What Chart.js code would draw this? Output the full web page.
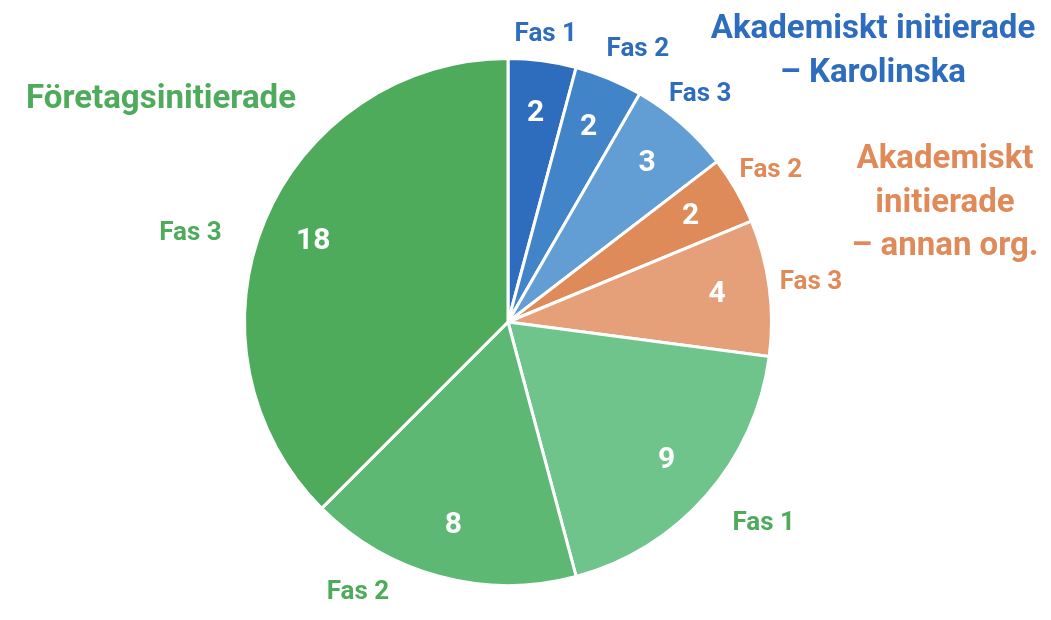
<!DOCTYPE html>
<html>
<head>
<meta charset="utf-8">
<script src="https://cdn.jsdelivr.net/npm/chart.js@4"></script>
<style>
  html, body { margin: 0; padding: 0; background: #fff; }
  #wrap { width: 1051px; height: 620px; position: relative; }
</style>
</head>
<body>
<div id="wrap"><canvas id="pieChart"></canvas></div>
<script>
// Data
const labels = ['Fas 1', 'Fas 2', 'Fas 3', 'Fas 2', 'Fas 3', 'Fas 1', 'Fas 2', 'Fas 3'];
const groups = ['kar', 'kar', 'kar', 'annan', 'annan', 'ftg', 'ftg', 'ftg'];
const values = [2, 2, 3, 2, 4, 9, 8, 18];
const groupTitles = {
  kar: ['Akademiskt initierade', '– Karolinska'],
  annan: ['Akademiskt', 'initierade', '– annan org.'],
  ftg: ['Företagsinitierade']
};

// Styles
const sliceColors = ['#2E6DBD', '#4284C8', '#629ED4', '#DF8A59', '#E5A07A', '#6FC48B', '#5DB874', '#4EAB5C'];
const textColors = { kar: '#2E6DBD', annan: '#E08A5A', ftg: '#4EAB5C' };
const FONT = 'Roboto, "Liberation Sans", sans-serif';

// outside label tweaks: [angle nudge in degrees, distance beyond the rim]
const outerTweak = [[0, 26], [3, 38], [-1, 34], [0, 40], [0, 42], [-3, 62], [14, 46], [-7, 66]];

const labelPlugin = {
  id: 'sliceLabels',
  afterDatasetsDraw(chart) {
    const ctx = chart.ctx;
    const meta = chart.getDatasetMeta(0);
    ctx.save();
    ctx.textBaseline = 'middle';
    ctx.textAlign = 'center';
    meta.data.forEach((arc, i) => {
      const { x, y, startAngle, endAngle, outerRadius } = arc.getProps(['x', 'y', 'startAngle', 'endAngle', 'outerRadius'], true);
      const mid = (startAngle + endAngle) / 2;
      // value inside
      const ri = outerRadius * 0.8;
      ctx.fillStyle = '#ffffff';
      ctx.font = 'bold 30px ' + FONT;
      ctx.fillText(String(values[i]), x + Math.cos(mid) * ri, y + Math.sin(mid) * ri);
      // phase label outside
      const a = mid + outerTweak[i][0] * Math.PI / 180;
      const ro = outerRadius + outerTweak[i][1];
      ctx.fillStyle = textColors[groups[i]];
      ctx.font = 'bold 26px ' + FONT;
      ctx.fillText(labels[i], x + Math.cos(a) * ro, y + Math.sin(a) * ro);
    });
    // group titles
    const titlePos = { kar: [873, 30], annan: [945, 160], ftg: [161, 100] };
    ctx.font = 'bold 33px ' + FONT;
    Object.keys(groupTitles).forEach(g => {
      ctx.fillStyle = textColors[g];
      groupTitles[g].forEach((line, k) => {
        ctx.fillText(line, titlePos[g][0], titlePos[g][1] + k * 43.5);
      });
    });
    ctx.restore();
  }
};

const ctx = document.getElementById('pieChart').getContext('2d');
new Chart(ctx, {
  type: 'pie',
  data: {
    labels: labels,
    datasets: [{
      data: values,
      backgroundColor: sliceColors,
      borderColor: '#ffffff',
      borderWidth: 3
    }]
  },
  options: {
    responsive: true,
    maintainAspectRatio: false,
    animation: false,
    layout: { padding: { top: 57, bottom: 33, left: 243, right: 278 } },
    plugins: {
      legend: { display: false },
      tooltip: { enabled: false }
    }
  },
  plugins: [labelPlugin]
});
</script>
</body>
</html>
